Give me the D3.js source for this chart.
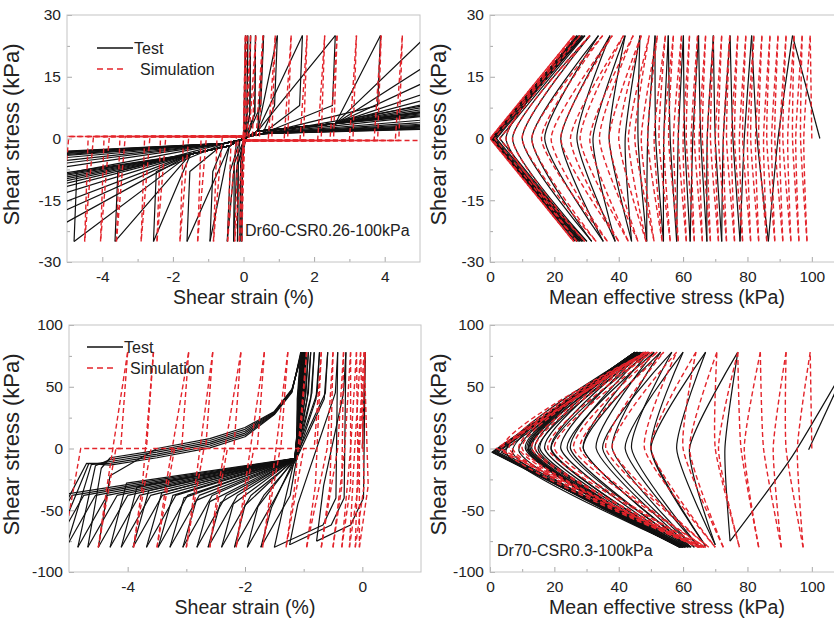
<!DOCTYPE html>
<html lang="en">
<head>
<meta charset="UTF-8">
<meta name="viewport" content="width=device-width, initial-scale=1.0">
<title>Cyclic simple shear: test vs simulation</title>
<script src="https://d3js.org/d3.v7.min.js"></script>
<style>
    body { margin: 0; background: #fff; }
    #chart { display: block; font-family: Arial, "Liberation Sans", sans-serif; }
    .frame { fill: none; stroke: #c4c4c4; stroke-width: 1; }
    .tick line { stroke: #a8a8a8; }
    .tick text { fill: #222; font-size: 15.5px; font-family: Arial, "Liberation Sans", sans-serif; }
    .test { fill: none; stroke: #111; stroke-width: 1.2; stroke-linejoin: round; }
    .sim { fill: none; stroke: #e3242b; stroke-width: 1.4; stroke-dasharray: 5 3; }
    .xtitle { fill: #222; font-size: 19.5px; }
    .ytitle { fill: #222; font-size: 22px; }
    .note { fill: #222; font-size: 16px; }
</style>
</head>
<body>
<svg id="chart" width="834" height="620"></svg>
<script>
// ---------- (a) Dr60 stress-strain: strains (%) where each half cycle turns ----------
const aTestPeak   = [0.06, 0.12, 0.2, 0.34, 0.57, 0.96, 1.67, 2.6, 3.88, 5.2, 6.5, 8, 10, 12, 14, 16, 18, 20, 22, 24, 27, 30];
const aTestTrough = [-0.05, -0.1, -0.17, -0.28, -0.46, -0.95, -1.6, -2.55, -3.64, -4.8, -6, -7, -8, -9.5, -11, -12, -13, -14, -15, -16, -17, -18];
const aSimPeak    = [0.05, 0.1, 0.2, 0.35, 0.55, 0.9, 1.35, 1.8, 2.3, 2.65, 3.2, 3.9, 4.5, 5.3];
const aSimTrough  = [-0.05, -0.12, -0.25, -0.45, -0.85, -1.3, -1.8, -2.45, -2.9, -3.6, -4.05, -4.5, -5.2];

// ---------- (b) Dr60 stress path: p' (kPa) at each turn (+25 / -25 alternately) ----------
const bTestStart = 102.5;
const bTestTurn = [94, 86.5, 81.3, 77.7, 74.6, 72, 69.4, 67.4, 64.8, 62.2, 60.1, 58, 55.4, 53.9, 51.3, 48.7,
    46.6, 44, 42, 38.9, 37.3, 35.2, 33.7, 31.6, 31.1, 30.1, 29.5, 29, 29, 28.5, 28.5, 28, 28, 27.5, 27.5, 27, 27, 26.5];
const bTestMid = [89.5, 83, 79, 75.5, 72.5, 70, 67.5, 65.5, 63, 60.5, 58.5, 56, 54, 51.5, 49, 46,
    42, 37, 32, 27, 22, 17, 13, 10, 7, 5, 3, 2, 1.5, 1, 1, 0.5, 0.5, 0.3, 0.3, 0.2, 0.2];
const bSimStart = 100;
const bSimTurn = [99.5, 98.5, 97, 96, 94.5, 93.5, 92, 91, 89.5, 88.5, 87, 86, 84.5, 83.5, 82, 81, 79.5, 78.5, 77, 76,
    74.5, 73.5, 72, 71, 69.5, 68.5, 67, 66, 64.5, 63.5, 62, 61, 59.5, 58.5, 57, 56, 54.5, 53.5, 52, 51,
    49.5, 48.5, 47, 46, 44.5, 43, 41.5, 40, 38, 36.5, 35, 33, 31, 29.5, 28, 27, 26.5, 26, 26, 26];
const bSimMid = [97.5, 96.5, 95, 94, 92.5, 91, 90, 88.5, 87.5, 86, 85, 83.5, 82.5, 81, 80, 78.5, 77.5, 76, 75,
    73.5, 72.5, 71, 70, 68.5, 67.5, 66, 65, 63.5, 62.5, 61, 60, 58.5, 57, 55.5, 54, 52.5, 51, 49, 47,
    45, 43, 40, 37, 34, 31, 28, 25, 22, 19, 16, 13, 10, 7, 5, 3, 1.5, 0.5, 0, 0];

// ---------- (c) Dr70 stress-strain ----------
const cTestPeak = [0.05, -0.28, -0.42, -0.59, -0.73, -0.82, -0.88, -0.92, -0.95, -0.97, -0.98, -0.99, -1.0, -1.0,
    -1.01, -1.01, -1.02, -1.02, -1.03, -1.03, -1.04, -1.04, -1.05];
const cTestTrough = [-0.78, -1.24, -1.5, -1.73, -1.96, -2.18, -2.4, -2.63, -2.82, -3.06, -3.28, -3.48, -3.68, -3.91,
    -4.11, -4.3, -4.5, -4.68, -4.85, -5.05, -5.25, -5.45, -5.7];
const cTestTroughStress = [-75, -78, -80, -80, -80, -80, -80, -80, -80, -80, -80, -80, -80, -80,
    -80, -80, -80, -80, -80, -80, -80, -80, -80];
const cTestKneeStrain = [-0.66, -1.1, -1.35, -1.55, -1.78, -2.0, -2.2, -2.42, -2.6, -2.83, -3.04, -3.23, -3.42, -3.64,
    -3.84, -4.02, -4.3, -4.45, -4.55, -4.62, -4.66, -4.7, -4.72];
const cTestKneeStress = [-30, -45, -48, -48, -47, -46, -45, -44, -43, -42, -40, -38, -36, -34,
    -31, -28, -22, -16, -14, -13, -12, -12, -12];
const cUpperStrain = [-4.3, -3.5, -2.6, -2.0, -1.5, -1.2];
const cUpperStress = [-6, 0, 8, 17, 30, 48];
const cUpperSpread = [0, 1.5, 3, 4.5, 6, 7.5, 9];
const cSimPeak   = [0.05, 0.03, -0.03, -0.1, -0.2, -0.32, -0.5, -0.7, -0.95, -1.27, -1.67, -2.07, -2.55, -2.96, -3.56, -4.0];
const cSimTrough = [-0.05, -0.12, -0.22, -0.35, -0.5, -0.7, -0.95, -1.3, -1.7, -2.15, -2.6, -3.0, -3.5, -3.9, -4.5, -5.1];

// ---------- (d) Dr70 stress path ----------
const dTestStart = 99;
const dTestPeak   = [113, 77, 67, 60, 56.5, 53, 51, 49.5, 48.5, 47.5, 47, 46.5, 46, 46, 45.5, 45.5, 45.5, 45, 45, 45];
const dTestTrough = [74.6, 70, 67, 65, 63.5, 62.5, 62, 61.5, 61, 60.5, 60.5, 60, 60, 60, 59.5, 59.5, 59.5, 59, 59, 59];
const dTestTroughStress = [-75, -78, -79, -80, -80, -80, -80, -80, -80, -80, -80, -80, -80, -80, -80, -80, -80, -80, -80, -80];
const dTestDownMid = [94, 62, 50, 42, 35, 29, 24, 19, 15, 12, 9, 7, 5, 3.5, 2.5, 2, 1.5, 1, 0.8, 0.6];
const dTestDownMidStress = [-6, 0, 0, 0, 0, 0, 0, -1, -1, -2, -2, -3, -3, -3, -3, -3, -3, -3, -3, -3];
const dTestUpMid = [73, 58, 50, 44, 38, 33, 29, 25, 22, 19, 17, 15.5, 14, 13, 12.5, 12, 12, 11.5, 11];
const dSimStart = 100;
const dSimTurn = [99.5, 97.3, 92, 90.5, 84, 83.5, 77, 77.5, 70.5, 72.5, 64, 70, 58, 68, 54, 67, 52, 66.5,
    50.5, 66, 49.5, 65.5, 49, 65, 48.5, 65, 48, 64.5];
const dSimMid = [95.5, 92, 88, 85, 79, 78, 71, 70, 62, 60, 50, 48, 38, 36, 28, 26, 20, 18, 14, 13, 10, 9, 7, 6, 4, 3, 2];

const svg = d3.select('#chart');

// builds one panel: frame, clip, ticks, titles; returns clipped group for the curves
function panel(id, x, y, xMajor, xMinor, yMajor, yMinor, xTitle, yTitleX) {
    const [x0, x1] = x.range();
    const [y1, y0] = y.range();
    const g = svg.append('g');
    g.append('clipPath').attr('id', 'clip-' + id)
        .append('rect').attr('x', x0).attr('y', y0).attr('width', x1 - x0).attr('height', y1 - y0);

    const fmt = d => String(d);
    g.append('g').attr('transform', `translate(0,${y1})`)
        .call(d3.axisBottom(x).tickValues(xMinor).tickSizeInner(-3).tickSizeOuter(0).tickFormat(''))
        .call(a => a.select('.domain').remove());
    g.append('g').attr('transform', `translate(0,${y1})`)
        .call(d3.axisBottom(x).tickValues(xMajor).tickSizeInner(-5).tickSizeOuter(0).tickPadding(9).tickFormat(fmt))
        .call(a => a.select('.domain').remove());
    g.append('g').attr('transform', `translate(${x0},0)`)
        .call(d3.axisLeft(y).tickValues(yMinor).tickSizeInner(-3).tickSizeOuter(0).tickFormat(''))
        .call(a => a.select('.domain').remove());
    g.append('g').attr('transform', `translate(${x0},0)`)
        .call(d3.axisLeft(y).tickValues(yMajor).tickSizeInner(-5).tickSizeOuter(0).tickPadding(6).tickFormat(fmt))
        .call(a => a.select('.domain').remove());

    g.append('rect').attr('class', 'frame')
        .attr('x', x0).attr('y', y0).attr('width', x1 - x0).attr('height', y1 - y0);

    g.append('text').attr('class', 'xtitle').attr('text-anchor', 'middle')
        .attr('x', (x0 + x1) / 2).attr('y', y1 + 42).text(xTitle);
    g.append('text').attr('class', 'ytitle').attr('text-anchor', 'middle')
        .attr('transform', `translate(${yTitleX},${(y0 + y1) / 2 - 4}) rotate(-90)`)
        .text('Shear stress (kPa)');

    return g.append('g').attr('clip-path', `url(#clip-${id})`);
}

// sharp branches (tip close to the origin) are drawn straight, the others smoothed
function drawPaths(plot, x, y, paths, cls, curve, sharpBelow) {
    const smooth = d3.line().x(d => x(d[0])).y(d => y(d[1])).curve(curve);
    const straight = d3.line().x(d => x(d[0])).y(d => y(d[1]));
    plot.append('g').selectAll('path').data(paths).join('path')
        .attr('class', cls)
        .attr('d', p => (sharpBelow !== undefined && p.length === 3 && p[1][0] < sharpBelow) ? straight(p) : smooth(p));
}

// alternate peak/trough list -> branches through mid points
function turnPaths(startPt, turnPts, midPts) {
    const out = [[startPt, turnPts[0]]];
    for (let i = 1; i < turnPts.length; i++) {
        if (i - 1 < midPts.length) out.push([turnPts[i - 1], midPts[i - 1], turnPts[i]]);
    }
    return out;
}

function legend(x0, yTop) {
    const lg = svg.append('g');
    lg.append('line').attr('x1', x0).attr('x2', x0 + 36).attr('y1', yTop).attr('y2', yTop)
        .attr('stroke', '#111').attr('stroke-width', 1.6);
    lg.append('text').attr('class', 'note').attr('x', x0 + 37).attr('y', yTop + 6).text('Test');
    lg.append('line').attr('x1', x0).attr('x2', x0 + 30).attr('y1', yTop + 21).attr('y2', yTop + 21)
        .attr('stroke', '#e3242b').attr('stroke-width', 1.6).attr('stroke-dasharray', '6 4');
    lg.append('text').attr('class', 'note').attr('x', x0 + 43).attr('y', yTop + 27).text('Simulation');
}

// ================= panel (a) =================
{
    const x = d3.scaleLinear([-5, 5], [67, 420]);
    const y = d3.scaleLinear([-30, 30], [262, 15]);
    const plot = panel('a', x, y, [-4, -2, 0, 2, 4], [-3, -1, 1, 3], [-30, -15, 0, 15, 30], [-22.5, -7.5, 7.5, 22.5],
        'Shear strain (%)', 19);

    const loadA = (eN, eP) => {
        if (eP < 0.4 && eN > -0.4) return [[eN, -25], [eN + 0.02, -6], [eP - 0.02, 6], [eP, 25]];
        const p = [[eN, -25], [eN + 0.08, -8]];
        if (eN + 0.08 < -0.6) p.push([-0.55, -1.2]);
        p.push([-0.1, -0.4], [0.2, 0.8]);
        if (eP > 0.5) p.push([0.4, 1.8]);
        if (eP > 3.5) p.push([2.6, 3.6]);
        p.push([eP, 25]);
        return p;
    };
    const unloadA = (eP, eN) => {
        if (eP < 0.4 && eN > -0.4) return [[eP, 25], [eP - 0.02, 6], [eN + 0.02, -6], [eN, -25]];
        const p = [[eP, 25], [eP - 0.08, 8]];
        if (eP - 0.08 > 0.6) p.push([0.55, 1.2]);
        p.push([0.1, 0.4], [-0.2, -0.8]);
        if (eN < -0.5) p.push([-0.4, -1.8]);
        if (eN < -2) p.push([-1.5, -3.8]);
        p.push([eN, -25]);
        return p;
    };
    const test = [[[0, 0], [aTestPeak[0], 25]]];
    aTestPeak.forEach((p, i) => {
        test.push(unloadA(p, aTestTrough[i]));
        if (i + 1 < aTestPeak.length) test.push(loadA(aTestTrough[i], aTestPeak[i + 1]));
    });

    // simulation: liquefied flow sits just above zero left of the origin, just below it on the right
    const flow = (from, to) => from < to ? [[Math.min(-0.05, to), 0.5], [0.05, -0.5]] : [[Math.max(0.05, to), -0.5], [-0.05, 0.5]];
    const loadS = (eN, eP) => {
        if (eP - eN < 0.45) return [[eN, -25], [eP, 25]];
        const p = [[eN, -25], [eN + 0.1, eN + 0.1 < 0 ? 0.5 : -0.5]];
        if (eN + 0.1 < 0 && eP - 0.2 > 0) p.push([-0.05, 0.5], [0.05, -0.5]);
        p.push([eP - 0.2, eP - 0.2 > 0 ? -0.5 : 0.5], [eP, 25]);
        return p;
    };
    const unloadS = (eP, eN) => {
        if (eP - eN < 0.45) return [[eP, 25], [eN, -25]];
        const p = [[eP, 25], [eP - 0.1, eP - 0.1 > 0 ? -0.5 : 0.5]];
        if (eP - 0.1 > 0 && eN + 0.25 < 0) p.push([0.05, -0.5], [-0.05, 0.5]);
        p.push([eN + 0.25, eN + 0.25 < 0 ? 0.5 : -0.5], [eN, -25]);
        return p;
    };
    const sim = [[[0, 0], [aSimPeak[0], 25]]];
    aSimTrough.forEach((t, i) => {
        sim.push(unloadS(aSimPeak[i], t));
        if (i + 1 < aSimPeak.length) sim.push(loadS(t, aSimPeak[i + 1]));
    });

    drawPaths(plot, x, y, test, 'test', d3.curveLinear);
    drawPaths(plot, x, y, sim, 'sim', d3.curveLinear);
    legend(97, 48);
    svg.append('text').attr('class', 'note').attr('x', 245).attr('y', 236).text('Dr60-CSR0.26-100kPa');
}

// ================= panel (b) =================
{
    const x = d3.scaleLinear([0, 110], [490, 844]);
    const y = d3.scaleLinear([-30, 30], [262, 15]);
    const plot = panel('b', x, y, [0, 20, 40, 60, 80, 100], [10, 30, 50, 70, 90], [-30, -15, 0, 15, 30], [-22.5, -7.5, 7.5, 22.5],
        'Mean effective stress (kPa)', 446);
    const amp = i => (i % 2 === 0 ? 25 : -25);
    const test = turnPaths([bTestStart, 0], bTestTurn.map((p, i) => [p, amp(i)]), bTestMid.map(m => [m, 0]));
    const sim = turnPaths([bSimStart, 0], bSimTurn.map((p, i) => [p, amp(i)]), bSimMid.map(m => [m, 0]));
    drawPaths(plot, x, y, test, 'test', d3.curveCardinal.tension(0.4), 4);
    drawPaths(plot, x, y, sim, 'sim', d3.curveCardinal.tension(0.4), 4);
}

// ================= panel (c) =================
{
    const x = d3.scaleLinear([-5, 1], [69, 421]);
    const y = d3.scaleLinear([-100, 100], [572, 325]);
    const plot = panel('c', x, y, [-4, -2, 0], [-3, -1], [-100, -50, 0, 50, 100], [-75, -25, 25, 75],
        'Shear strain (%)', 19);

    let lateCount = 0;
    const loadC = (eN, tN, kX, kY, eP) => {
        const p = [[eN, tN], [kX, kY]];
        if (kY > -25) {
            const off = cUpperSpread[Math.min(lateCount++, cUpperSpread.length - 1)];
            cUpperStrain.forEach((s, j) => {
                if (s > kX + 0.1) p.push([s, cUpperStress[j] - (cUpperStress[j] < 30 ? off : off / 3)]);
            });
        } else {
            if (kX < -1.3) p.push([-1.15, -8]);
            p.push([eP - 0.04, 45]);
        }
        p.push([eP, 78]);
        return p;
    };
    const unloadC = (eP, eN, tN) => {
        if (eN > -1.6) return [[eP, 78], [eP - 0.03, -40], [eP - 0.25, -62], [eN, tN]];
        return [[eP, 78], [eP - 0.06, 40], [-1.12, -8], [eN + 0.5, -38], [eN, tN]];
    };
    const test = [[[0, 0], [cTestPeak[0], 78]]];
    cTestPeak.forEach((p, i) => {
        test.push(unloadC(p, cTestTrough[i], cTestTroughStress[i]));
        if (i + 1 < cTestPeak.length)
            test.push(loadC(cTestTrough[i], cTestTroughStress[i], cTestKneeStrain[i], cTestKneeStress[i], cTestPeak[i + 1]));
    });

    const loadS = (eN, eP) => [[eN, -80], [eN + 0.15, -30], [eP, 78]];
    const unloadS = (eP, eN) => eP - eN < 0.5 ? [[eP, 78], [eP - 0.1, 0], [eN, -80]]
        : [[eP, 78], [eP - 0.12, 0], [eN + 0.3, 0], [eN, -80]];
    const sim = [[[0, 0], [cSimPeak[0], 78]]];
    cSimTrough.forEach((t, i) => {
        sim.push(unloadS(cSimPeak[i], t));
        if (i + 1 < cSimPeak.length) sim.push(loadS(t, cSimPeak[i + 1]));
    });

    drawPaths(plot, x, y, test, 'test', d3.curveLinear);
    drawPaths(plot, x, y, sim, 'sim', d3.curveLinear);
    legend(87, 347);
}

// ================= panel (d) =================
{
    const x = d3.scaleLinear([0, 110], [490, 844]);
    const y = d3.scaleLinear([-100, 100], [572, 325]);
    const plot = panel('d', x, y, [0, 20, 40, 60, 80, 100], [10, 30, 50, 70, 90], [-100, -50, 0, 50, 100], [-75, -25, 25, 75],
        'Mean effective stress (kPa)', 446);

    const turns = [], mids = [];
    dTestPeak.forEach((p, i) => {
        turns.push([p, 78], [dTestTrough[i], dTestTroughStress[i]]);
        mids.push([dTestDownMid[i], dTestDownMidStress[i]]);
        if (i < dTestUpMid.length) mids.push([dTestUpMid[i], 0]);
    });
    const test = turnPaths([dTestStart, -1], turns, mids);
    const sim = turnPaths([dSimStart, 0], dSimTurn.map((p, i) => [p, i % 2 === 0 ? 78 : -80]), dSimMid.map(m => [m, 0]));
    drawPaths(plot, x, y, test, 'test', d3.curveCardinal.tension(0.4), 4);
    drawPaths(plot, x, y, sim, 'sim', d3.curveCardinal.tension(0.4), 4);
    svg.append('text').attr('class', 'note').attr('x', 497).attr('y', 556).text('Dr70-CSR0.3-100kPa');
}
</script>
</body>
</html>
